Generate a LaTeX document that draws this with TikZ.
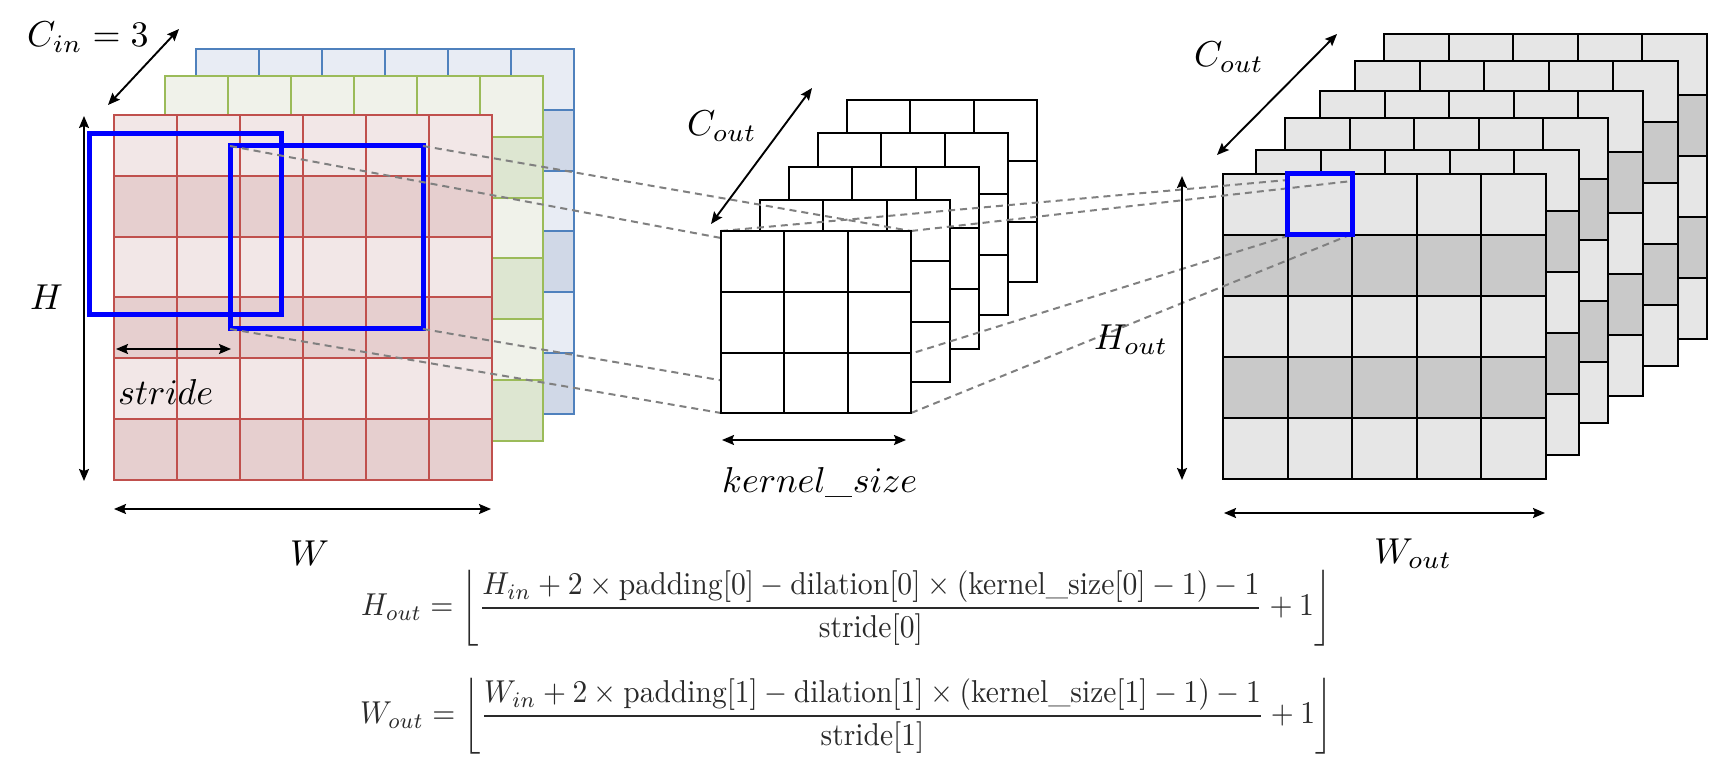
\documentclass[tikz,border=0pt]{standalone}
\usepackage{amsmath,graphicx}
\usetikzlibrary{arrows.meta}
\definecolor{redS}{HTML}{C0504D}
\definecolor{redL}{HTML}{F2E7E7}
\definecolor{redD}{HTML}{E6CFCF}
\definecolor{grnS}{HTML}{9BBB59}
\definecolor{grnL}{HTML}{F0F2EA}
\definecolor{grnD}{HTML}{DDE6D1}
\definecolor{bluS}{HTML}{4F81BD}
\definecolor{bluL}{HTML}{E8ECF4}
\definecolor{bluD}{HTML}{D0D8E7}
\definecolor{outL}{HTML}{E6E6E6}
\definecolor{outD}{HTML}{C9C9C9}
\definecolor{dashC}{HTML}{808080}
\definecolor{winC}{HTML}{0000FF}
\definecolor{frmC}{HTML}{2A2A2A}
% #1 x, #2 y (top-left), #3 cols, #4 rows, #5 cell w, #6 cell h, #7 style, #8 light fill, #9 dark fill
\newcommand{\gridlayer}[9]{%
  \foreach \rr in {1,...,#4}{%
    \foreach \cc in {1,...,#3}{%
      \ifodd\rr\relax\def\cellfill{#8}\else\def\cellfill{#9}\fi
      \filldraw[#7, fill=\cellfill]
        ({#1+(\cc-1)*#5},{#2+(\rr-1)*#6}) rectangle ++(#5,#6);
    }}}
\newcommand{\biglab}[1]{\scalebox{3.6}{$#1$}}
\begin{document}
\begin{tikzpicture}[x=1pt,y=-1pt,
  ingrid/.style={line width=2pt},
  kgrid/.style={draw=black, line width=2pt},
  ogrid/.style={draw=black, line width=2pt},
  win/.style={draw=winC, line width=5pt},
  guide/.style={draw=dashC, line width=2pt, dash pattern=on 7pt off 5pt},
  dim/.style={line width=1.9pt, {Stealth[length=12pt,width=10pt,inset=2pt]}-{Stealth[length=12pt,width=10pt,inset=2pt]}},
  lab/.style={inner sep=0pt, anchor=base west},
  frm/.style={inner sep=0pt, anchor=west, text=frmC}]
\useasboundingbox (0,0) rectangle (1723,783);

% ---------------- input stack ----------------
\gridlayer{196}{49}{6}{6}{63}{60.8}{ingrid,draw=bluS}{bluL}{bluD}
\gridlayer{165}{76}{6}{6}{63}{60.8}{ingrid,draw=grnS}{grnL}{grnD}
\gridlayer{114}{115}{6}{6}{63}{60.8}{ingrid,draw=redS}{redL}{redD}

% sliding windows
\coordinate (w1tl) at (89,134);  \coordinate (w1br) at (281,315);
\coordinate (w2tl) at (230,146); \coordinate (w2br) at (423,329);
\coordinate (w2tr) at (423,146); \coordinate (w2bl) at (230,329);
\draw[win] (w1tl) rectangle (w1br);
\draw[win] (w2tl) rectangle (w2br);

% ---------------- kernel back layers ----------------
\gridlayer{847}{100}{3}{3}{63.4}{60.8}{kgrid}{white}{white}
\gridlayer{818}{133}{3}{3}{63.4}{60.8}{kgrid}{white}{white}
\gridlayer{789}{167}{3}{3}{63.4}{60.8}{kgrid}{white}{white}
\gridlayer{760}{200}{3}{3}{63.4}{60.8}{kgrid}{white}{white}

% ---------------- output stack ----------------
\gridlayer{1384}{34}{5}{5}{64.6}{61}{ogrid}{outL}{outD}
\gridlayer{1355}{61}{5}{5}{64.6}{61}{ogrid}{outL}{outD}
\gridlayer{1320}{91}{5}{5}{64.6}{61}{ogrid}{outL}{outD}
\gridlayer{1285}{118}{5}{5}{64.6}{61}{ogrid}{outL}{outD}
\gridlayer{1256}{150}{5}{5}{64.6}{61}{ogrid}{outL}{outD}
\gridlayer{1223}{174}{5}{5}{64.6}{61}{ogrid}{outL}{outD}

% kernel front corners and output cell corners
\coordinate (ktl) at (721,231); \coordinate (ktr) at (911,231);
\coordinate (kbl) at (721,413); \coordinate (kbr) at (911,413);
\coordinate (kin) at (721,238);
\coordinate (otl) at (1287.6,180); \coordinate (otr) at (1352.2,181);
\coordinate (obl) at (1287.6,236); \coordinate (obr) at (1352.2,234);

% dashed guides
\draw[guide] (w2tl) -- (kin);
\draw[guide] (w2tr) -- (ktr);
\draw[guide] (w2bl) -- (kbl);
\draw[guide] (w2br) -- (kbr);
\draw[guide] (ktl) -- (otl);
\draw[guide] (ktr) -- (otr);
\draw[guide] (kbl) -- (obl);
\draw[guide] (kbr) -- (obr);

% kernel front layer
\gridlayer{721}{231}{3}{3}{63.4}{60.8}{kgrid}{white}{white}

% output highlighted cell
\draw[win] (1287.6,174) rectangle (1352.2,235);

% ---------------- dimension arrows ----------------
\coordinate (cinA) at (108,105);  \coordinate (cinB) at (179,29);
\coordinate (hA) at (84,116);     \coordinate (hB) at (84,481);
\coordinate (sA) at (116,349);    \coordinate (sB) at (231,349);
\coordinate (wA) at (114,509);    \coordinate (wB) at (491,509);
\coordinate (kcA) at (711,224);   \coordinate (kcB) at (812,88);
\coordinate (ksA) at (722,440);   \coordinate (ksB) at (906,440);
\coordinate (ocA) at (1217,155);  \coordinate (ocB) at (1337,34);
\coordinate (hoA) at (1182,176);  \coordinate (hoB) at (1182,480);
\coordinate (woA) at (1224,513);  \coordinate (woB) at (1545,513);
\draw[dim] (cinA) -- (cinB);
\draw[dim] (hA) -- (hB);
\draw[dim] (sA) -- (sB);
\draw[dim] (wA) -- (wB);
\draw[dim] (kcA) -- (kcB);
\draw[dim] (ksA) -- (ksB);
\draw[dim] (ocA) -- (ocB);
\draw[dim] (hoA) -- (hoB);
\draw[dim] (woA) -- (woB);

% ---------------- labels ----------------
\node[lab] (cin) at (27,47) {\biglab{C_{in}=3}};
\node[lab] (hl) at (30,310) {\biglab{H}};
\node[lab] (sl) at (118,404) {\biglab{stride}};
\node[lab] (wl) at (290,565) {\biglab{W}};
\node[lab] (kcl) at (687,136) {\biglab{C_{out}}};
\node[lab] (ksl) at (722,492) {\biglab{kernel\_size}};
\node[lab] (ocl) at (1194,67) {\biglab{C_{out}}};
\node[lab] (hol) at (1094,349) {\biglab{H_{out}}};
\node[lab] (wol) at (1374,563) {\biglab{W_{out}}};

% ---------------- formulas ----------------
\node[frm] (f1) at (361,608) {\resizebox*{970pt}{76pt}{$\displaystyle H_{out} = \left\lfloor \frac{H_{in} + 2 \times \text{padding}[0] - \text{dilation}[0] \times (\text{kernel\_size}[0] - 1) - 1}{\text{stride}[0]} + 1 \right\rfloor$}};
\node[frm] (f2) at (360,716) {\resizebox*{972pt}{76pt}{$\displaystyle W_{out} = \left\lfloor \frac{W_{in} + 2 \times \text{padding}[1] - \text{dilation}[1] \times (\text{kernel\_size}[1] - 1) - 1}{\text{stride}[1]} + 1 \right\rfloor$}};
\end{tikzpicture}
\end{document}
